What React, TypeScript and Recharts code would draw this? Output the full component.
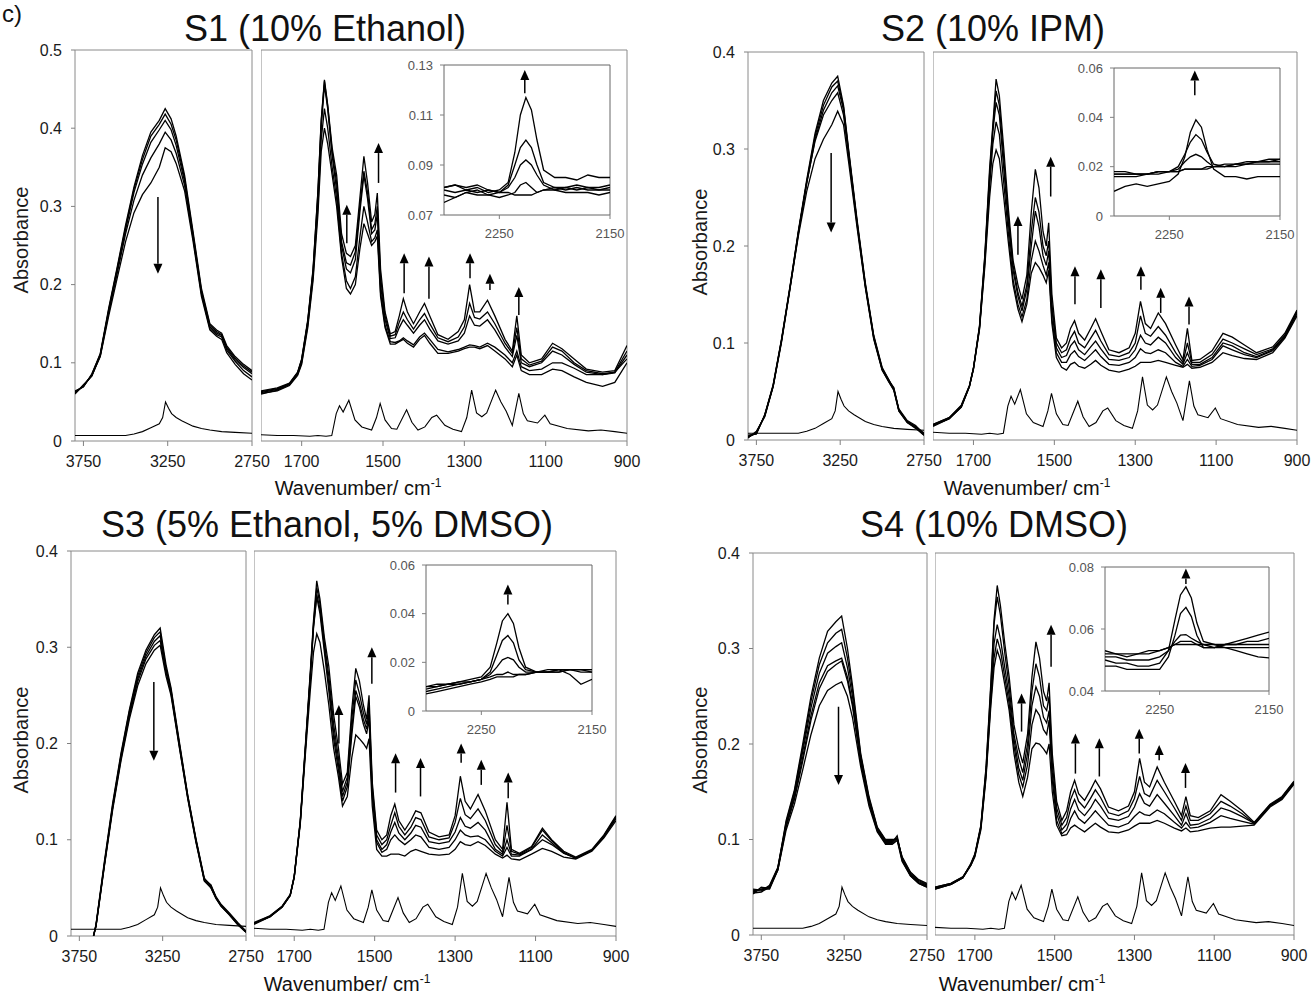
import React from 'react';
import { LineChart, Line, XAxis, YAxis, ReferenceArea, ReferenceLine } from 'recharts';

const FONT = "'Liberation Sans', Arial, sans-serif";

// wavenumber grids (cm-1)
const ohWn = [
  3800, 3750, 3700, 3650, 3600, 3550, 3500, 3450,
  3400, 3350, 3300, 3265, 3230, 3200, 3150, 3100,
  3050, 3000, 2960, 2930, 2900, 2850, 2800, 2750,
];
const s3OhWn = [
  3665, 3650, 3600, 3550, 3500, 3450, 3400, 3350, 3300, 3265, 3230,
  3200, 3150, 3100, 3050, 3000, 2960, 2930, 2900, 2850, 2800, 2750,
];
const fpWn = [
  1800, 1760, 1730, 1710, 1700, 1685, 1672, 1660,
  1652, 1644, 1636, 1625, 1614, 1602, 1590, 1580,
  1568, 1557, 1547, 1538, 1528, 1520, 1514, 1506,
  1495, 1482, 1470, 1460, 1450, 1440, 1425, 1410,
  1398, 1385, 1365, 1340, 1315, 1300, 1287, 1275,
  1262, 1243, 1225, 1200, 1182, 1171, 1160, 1140,
  1110, 1083, 1060, 1030, 1000, 960, 930, 900,
];
const cnWn = [2300, 2290, 2280, 2270, 2260, 2250, 2242, 2236, 2231, 2226, 2221, 2216, 2210, 2200, 2190, 2180, 2170, 2160, 2150];

// reference spectrum (bottom trace, same in every panel)
const refOhWn = [3800, 3700, 3600, 3500, 3450, 3400, 3350, 3300, 3280, 3263, 3245, 3227, 3200, 3167, 3100, 3050, 3000, 2930, 2850, 2750];
const refOh = [0.007, 0.007, 0.007, 0.007, 0.009, 0.012, 0.017, 0.022, 0.03, 0.05, 0.042, 0.035, 0.03, 0.026, 0.019, 0.016, 0.014, 0.012, 0.011, 0.01];
const refFpWn = [
  1800, 1760, 1720, 1680, 1660, 1640, 1626, 1615, 1607, 1598, 1584, 1569, 1552, 1528, 1516, 1507,
  1495, 1479, 1466, 1442, 1429, 1414, 1397, 1380, 1368, 1348, 1328, 1307, 1294, 1282, 1270, 1257,
  1245, 1223, 1210, 1197, 1182, 1166, 1155, 1145, 1120, 1102, 1089, 1047, 995, 964, 930, 900,
];
const refFp = [
  0.008, 0.007, 0.007, 0.006, 0.007, 0.006, 0.007, 0.035, 0.045, 0.037, 0.052, 0.027, 0.018, 0.014, 0.03, 0.048,
  0.027, 0.016, 0.015, 0.04, 0.024, 0.014, 0.018, 0.03, 0.033, 0.02, 0.015, 0.012, 0.03, 0.065, 0.036, 0.031,
  0.036, 0.065, 0.05, 0.038, 0.02, 0.061, 0.035, 0.026, 0.023, 0.033, 0.022, 0.016, 0.013, 0.014, 0.012, 0.01,
];

// tick values
const ohTicks = [3750, 3250, 2750];
const fpTicks = [1700, 1500, 1300, 1100, 900];
const cnTicks = [2250, 2150];
const absTicks5 = [0, 0.1, 0.2, 0.3, 0.4, 0.5];
const absTicks4 = [0, 0.1, 0.2, 0.3, 0.4];
const s1CnTicks = [0.07, 0.09, 0.11, 0.13];
const lowCnTicks = [0, 0.02, 0.04, 0.06];
const s4CnTicks = [0.04, 0.06, 0.08];

// ---- S1 (10% Ethanol)
const s1Oh = [
  [0.062, 0.07, 0.085, 0.112, 0.17, 0.222, 0.276, 0.325, 0.365, 0.395, 0.41, 0.425, 0.412, 0.39, 0.34, 0.268, 0.195, 0.15, 0.142, 0.138, 0.122, 0.108, 0.098, 0.09],
  [0.06, 0.072, 0.083, 0.11, 0.168, 0.22, 0.273, 0.322, 0.36, 0.39, 0.405, 0.418, 0.405, 0.385, 0.336, 0.265, 0.192, 0.148, 0.14, 0.136, 0.12, 0.106, 0.096, 0.088],
  [0.064, 0.069, 0.086, 0.111, 0.166, 0.218, 0.27, 0.318, 0.354, 0.382, 0.398, 0.41, 0.398, 0.378, 0.332, 0.262, 0.19, 0.146, 0.138, 0.135, 0.118, 0.104, 0.094, 0.086],
  [0.061, 0.071, 0.084, 0.109, 0.164, 0.214, 0.265, 0.308, 0.34, 0.362, 0.38, 0.395, 0.385, 0.368, 0.327, 0.26, 0.188, 0.144, 0.136, 0.133, 0.116, 0.102, 0.09, 0.082],
  [0.063, 0.07, 0.084, 0.108, 0.16, 0.208, 0.255, 0.292, 0.315, 0.33, 0.35, 0.375, 0.37, 0.355, 0.32, 0.256, 0.185, 0.142, 0.134, 0.13, 0.113, 0.098, 0.086, 0.078],
];
const s1Fp = [
  [0.064, 0.068, 0.074, 0.088, 0.105, 0.155, 0.22, 0.32,
   0.41, 0.462, 0.43, 0.375, 0.34, 0.265, 0.24, 0.236,
   0.25, 0.31, 0.364, 0.33, 0.28, 0.29, 0.317, 0.22,
   0.165, 0.137, 0.14, 0.16, 0.182, 0.165, 0.15, 0.165,
   0.176, 0.16, 0.136, 0.13, 0.14, 0.155, 0.2, 0.165,
   0.165, 0.18, 0.16, 0.13, 0.115, 0.16, 0.11, 0.1,
   0.105, 0.125, 0.118, 0.105, 0.092, 0.088, 0.09, 0.122],
  [0.062, 0.066, 0.073, 0.087, 0.103, 0.153, 0.218, 0.318,
   0.408, 0.46, 0.428, 0.37, 0.33, 0.255, 0.228, 0.225,
   0.242, 0.3, 0.345, 0.318, 0.27, 0.278, 0.3, 0.21,
   0.16, 0.134, 0.136, 0.152, 0.165, 0.155, 0.143, 0.155,
   0.163, 0.15, 0.132, 0.127, 0.133, 0.146, 0.176, 0.158,
   0.156, 0.165, 0.15, 0.125, 0.112, 0.145, 0.105, 0.097,
   0.102, 0.12, 0.115, 0.1, 0.09, 0.086, 0.088, 0.115],
  [0.063, 0.067, 0.073, 0.087, 0.104, 0.152, 0.215, 0.31,
   0.4, 0.455, 0.425, 0.365, 0.32, 0.25, 0.22, 0.215,
   0.232, 0.292, 0.34, 0.31, 0.265, 0.27, 0.29, 0.2,
   0.155, 0.131, 0.132, 0.145, 0.155, 0.148, 0.138, 0.148,
   0.155, 0.143, 0.128, 0.124, 0.128, 0.138, 0.16, 0.148,
   0.147, 0.155, 0.142, 0.12, 0.108, 0.135, 0.1, 0.095,
   0.1, 0.115, 0.11, 0.098, 0.088, 0.085, 0.087, 0.11],
  [0.06, 0.065, 0.072, 0.085, 0.1, 0.148, 0.21, 0.3,
   0.385, 0.425, 0.4, 0.35, 0.31, 0.24, 0.205, 0.195,
   0.21, 0.26, 0.3, 0.28, 0.255, 0.26, 0.27, 0.19,
   0.148, 0.127, 0.126, 0.128, 0.132, 0.128, 0.123, 0.133,
   0.138, 0.13, 0.117, 0.114, 0.117, 0.12, 0.123, 0.122,
   0.12, 0.125, 0.12, 0.11, 0.1, 0.115, 0.095, 0.09,
   0.092, 0.1, 0.1, 0.093, 0.085, 0.085, 0.088, 0.105],
  [0.061, 0.064, 0.071, 0.084, 0.098, 0.145, 0.205, 0.29,
   0.37, 0.4, 0.38, 0.34, 0.3, 0.235, 0.195, 0.188,
   0.2, 0.245, 0.278, 0.265, 0.25, 0.255, 0.262, 0.185,
   0.145, 0.124, 0.124, 0.127, 0.13, 0.125, 0.12, 0.13,
   0.135, 0.125, 0.112, 0.112, 0.115, 0.118, 0.12, 0.12,
   0.118, 0.122, 0.115, 0.105, 0.095, 0.11, 0.09, 0.085,
   0.085, 0.092, 0.09, 0.082, 0.075, 0.07, 0.075, 0.1],
];
const s1Cn = [
  [0.081, 0.082, 0.08, 0.081, 0.079, 0.08, 0.083, 0.095, 0.11, 0.117, 0.112, 0.1, 0.088, 0.085, 0.085, 0.084, 0.086, 0.085, 0.085],
  [0.08, 0.079, 0.08, 0.079, 0.08, 0.079, 0.082, 0.09, 0.097, 0.1, 0.097, 0.09, 0.083, 0.081, 0.081, 0.082, 0.081, 0.081, 0.082],
  [0.078, 0.077, 0.079, 0.078, 0.078, 0.079, 0.081, 0.085, 0.09, 0.092, 0.09, 0.086, 0.082, 0.08, 0.081, 0.08, 0.081, 0.08, 0.081],
  [0.075, 0.077, 0.079, 0.08, 0.078, 0.077, 0.078, 0.079, 0.082, 0.083, 0.081, 0.079, 0.08, 0.081, 0.08, 0.081, 0.08, 0.08, 0.08],
  [0.081, 0.082, 0.081, 0.082, 0.08, 0.079, 0.079, 0.078, 0.078, 0.078, 0.078, 0.079, 0.08, 0.08, 0.079, 0.079, 0.079, 0.078, 0.079],
];
// arrows: [wavenumber, from, to]
const s1OhArrows = [[3308, 0.312, 0.214]];
const s1FpArrows = [[1589, 0.253, 0.302], [1511, 0.33, 0.381], [1448, 0.189, 0.24], [1387, 0.182, 0.236], [1286, 0.208, 0.24], [1237, 0.193, 0.214], [1166, 0.161, 0.197]];
const s1CnArrows = [[2227, 0.1187, 0.128]];

// ---- S2 (10% IPM)
const s2Oh = [
  [0.003, 0.008, 0.025, 0.056, 0.103, 0.157, 0.215, 0.268, 0.316, 0.35, 0.368, 0.375, 0.345, 0.3, 0.228, 0.162, 0.108, 0.075, 0.062, 0.052, 0.032, 0.02, 0.015, 0.006],
  [0.005, 0.006, 0.026, 0.055, 0.102, 0.156, 0.213, 0.266, 0.313, 0.345, 0.364, 0.37, 0.343, 0.298, 0.226, 0.16, 0.107, 0.074, 0.062, 0.053, 0.031, 0.019, 0.014, 0.007],
  [0.002, 0.009, 0.024, 0.055, 0.101, 0.155, 0.212, 0.264, 0.31, 0.34, 0.358, 0.365, 0.34, 0.296, 0.225, 0.16, 0.106, 0.073, 0.061, 0.054, 0.031, 0.019, 0.013, 0.006],
  [0.004, 0.007, 0.026, 0.057, 0.104, 0.158, 0.214, 0.265, 0.308, 0.335, 0.35, 0.358, 0.335, 0.293, 0.223, 0.158, 0.105, 0.073, 0.06, 0.052, 0.03, 0.018, 0.013, 0.005],
  [0.003, 0.007, 0.025, 0.056, 0.103, 0.156, 0.21, 0.256, 0.29, 0.31, 0.325, 0.339, 0.325, 0.287, 0.22, 0.157, 0.104, 0.072, 0.06, 0.051, 0.03, 0.018, 0.012, 0.005],
];
const s2Fp = [
  [0.015, 0.022, 0.035, 0.055, 0.074, 0.118, 0.19, 0.28,
   0.325, 0.372, 0.355, 0.3, 0.24, 0.185, 0.16, 0.145,
   0.17, 0.235, 0.279, 0.26, 0.215, 0.2, 0.224, 0.15,
   0.105, 0.095, 0.1, 0.115, 0.123, 0.11, 0.103, 0.115,
   0.125, 0.112, 0.093, 0.09, 0.095, 0.11, 0.143, 0.12,
   0.115, 0.131, 0.12, 0.098, 0.083, 0.115, 0.082, 0.083,
   0.092, 0.11, 0.106, 0.098, 0.09, 0.096, 0.11, 0.134],
  [0.016, 0.023, 0.036, 0.056, 0.074, 0.117, 0.188, 0.275,
   0.322, 0.36, 0.345, 0.29, 0.232, 0.18, 0.152, 0.138,
   0.16, 0.215, 0.25, 0.235, 0.2, 0.19, 0.205, 0.14,
   0.1, 0.09, 0.093, 0.105, 0.112, 0.1, 0.095, 0.105,
   0.113, 0.102, 0.088, 0.086, 0.09, 0.1, 0.128, 0.11,
   0.107, 0.117, 0.108, 0.09, 0.08, 0.1, 0.08, 0.08,
   0.088, 0.104, 0.1, 0.094, 0.088, 0.094, 0.108, 0.133],
  [0.014, 0.022, 0.034, 0.055, 0.073, 0.116, 0.185, 0.268,
   0.318, 0.348, 0.335, 0.28, 0.225, 0.175, 0.148, 0.133,
   0.155, 0.2, 0.236, 0.22, 0.19, 0.18, 0.195, 0.135,
   0.095, 0.085, 0.087, 0.097, 0.102, 0.093, 0.088, 0.096,
   0.102, 0.094, 0.083, 0.082, 0.085, 0.093, 0.108, 0.1,
   0.098, 0.106, 0.1, 0.085, 0.078, 0.09, 0.078, 0.078,
   0.085, 0.1, 0.097, 0.09, 0.086, 0.093, 0.107, 0.132],
  [0.016, 0.023, 0.035, 0.056, 0.074, 0.115, 0.182, 0.262,
   0.305, 0.328, 0.315, 0.265, 0.215, 0.165, 0.14, 0.127,
   0.145, 0.185, 0.205, 0.195, 0.18, 0.17, 0.183, 0.125,
   0.09, 0.08, 0.08, 0.088, 0.092, 0.086, 0.082, 0.088,
   0.093, 0.086, 0.078, 0.077, 0.08, 0.085, 0.094, 0.09,
   0.089, 0.093, 0.09, 0.08, 0.076, 0.083, 0.076, 0.077,
   0.083, 0.097, 0.093, 0.088, 0.085, 0.092, 0.106, 0.13],
  [0.015, 0.022, 0.034, 0.055, 0.073, 0.114, 0.178, 0.25,
   0.285, 0.299, 0.29, 0.25, 0.205, 0.16, 0.135, 0.122,
   0.14, 0.172, 0.183, 0.178, 0.17, 0.162, 0.175, 0.12,
   0.085, 0.075, 0.072, 0.078, 0.08, 0.076, 0.074, 0.078,
   0.082, 0.077, 0.072, 0.07, 0.073, 0.076, 0.08, 0.08,
   0.08, 0.082, 0.08, 0.077, 0.075, 0.078, 0.074, 0.075,
   0.08, 0.09, 0.087, 0.084, 0.083, 0.09, 0.105, 0.128],
];
const s2Cn = [
  [0.01, 0.012, 0.013, 0.012, 0.013, 0.014, 0.017, 0.024, 0.034, 0.039, 0.036, 0.027, 0.019, 0.016, 0.016, 0.015, 0.016, 0.016, 0.016],
  [0.016, 0.016, 0.016, 0.017, 0.017, 0.018, 0.02, 0.025, 0.03, 0.033, 0.031, 0.026, 0.021, 0.02, 0.02, 0.021, 0.021, 0.021, 0.021],
  [0.017, 0.017, 0.017, 0.017, 0.018, 0.018, 0.019, 0.022, 0.024, 0.025, 0.024, 0.022, 0.02, 0.02, 0.021, 0.021, 0.022, 0.022, 0.022],
  [0.017, 0.017, 0.017, 0.017, 0.018, 0.018, 0.018, 0.019, 0.019, 0.019, 0.019, 0.019, 0.02, 0.02, 0.021, 0.021, 0.022, 0.022, 0.023],
  [0.018, 0.018, 0.017, 0.017, 0.018, 0.018, 0.018, 0.019, 0.019, 0.019, 0.019, 0.02, 0.02, 0.021, 0.021, 0.022, 0.022, 0.023, 0.023],
];
const s2OhArrows = [[3304, 0.296, 0.214]];
const s2FpArrows = [[1590, 0.191, 0.231], [1509, 0.251, 0.292], [1449, 0.14, 0.179], [1385, 0.136, 0.176], [1286, 0.155, 0.179], [1237, 0.131, 0.157], [1167, 0.119, 0.148]];
const s2CnArrows = [[2227, 0.049, 0.059]];

// ---- S3 (5% Ethanol, 5% DMSO)
const s3Oh = [
  [0, 0.012, 0.077, 0.138, 0.19, 0.235, 0.273, 0.297, 0.313, 0.32, 0.282, 0.258, 0.202, 0.147, 0.101, 0.06, 0.052, 0.041, 0.033, 0.024, 0.014, 0.005],
  [0, 0.011, 0.075, 0.136, 0.188, 0.233, 0.27, 0.294, 0.31, 0.316, 0.278, 0.256, 0.2, 0.146, 0.1, 0.059, 0.053, 0.04, 0.032, 0.023, 0.013, 0.005],
  [0, 0.011, 0.074, 0.134, 0.186, 0.23, 0.267, 0.291, 0.306, 0.312, 0.276, 0.254, 0.199, 0.145, 0.099, 0.058, 0.051, 0.04, 0.032, 0.023, 0.013, 0.004],
  [0, 0.01, 0.073, 0.133, 0.184, 0.228, 0.264, 0.288, 0.302, 0.307, 0.274, 0.252, 0.197, 0.144, 0.098, 0.058, 0.05, 0.039, 0.031, 0.022, 0.012, 0.004],
  [0, 0.01, 0.072, 0.131, 0.182, 0.225, 0.26, 0.283, 0.297, 0.302, 0.27, 0.25, 0.196, 0.143, 0.097, 0.057, 0.05, 0.039, 0.031, 0.022, 0.012, 0.004],
];
const s3Fp = [
  [0.013, 0.02, 0.03, 0.042, 0.062, 0.12, 0.2, 0.275,
   0.328, 0.369, 0.35, 0.31, 0.28, 0.23, 0.195, 0.158,
   0.17, 0.235, 0.278, 0.265, 0.24, 0.225, 0.25, 0.16,
   0.11, 0.1, 0.105, 0.125, 0.137, 0.12, 0.11, 0.12,
   0.13, 0.128, 0.108, 0.103, 0.105, 0.125, 0.166, 0.14,
   0.132, 0.147, 0.13, 0.1, 0.09, 0.139, 0.09, 0.086,
   0.093, 0.112, 0.1, 0.088, 0.082, 0.09, 0.105, 0.125],
  [0.013, 0.021, 0.031, 0.043, 0.062, 0.119, 0.198, 0.272,
   0.325, 0.362, 0.345, 0.305, 0.27, 0.22, 0.185, 0.15,
   0.165, 0.225, 0.266, 0.252, 0.232, 0.22, 0.24, 0.155,
   0.105, 0.095, 0.1, 0.115, 0.128, 0.114, 0.105, 0.113,
   0.123, 0.121, 0.103, 0.1, 0.102, 0.118, 0.143, 0.126,
   0.122, 0.132, 0.12, 0.095, 0.087, 0.115, 0.088, 0.085,
   0.092, 0.11, 0.099, 0.087, 0.081, 0.089, 0.104, 0.124],
  [0.012, 0.02, 0.03, 0.042, 0.061, 0.118, 0.196, 0.27,
   0.322, 0.355, 0.34, 0.3, 0.262, 0.212, 0.178, 0.145,
   0.16, 0.215, 0.255, 0.243, 0.225, 0.215, 0.232, 0.15,
   0.1, 0.09, 0.095, 0.108, 0.118, 0.107, 0.1, 0.107,
   0.115, 0.113, 0.098, 0.096, 0.098, 0.108, 0.123, 0.114,
   0.112, 0.118, 0.11, 0.09, 0.085, 0.1, 0.085, 0.084,
   0.09, 0.105, 0.097, 0.086, 0.081, 0.089, 0.104, 0.123],
  [0.014, 0.021, 0.031, 0.043, 0.062, 0.118, 0.195, 0.268,
   0.32, 0.352, 0.335, 0.295, 0.255, 0.205, 0.172, 0.14,
   0.155, 0.208, 0.249, 0.238, 0.22, 0.21, 0.225, 0.145,
   0.097, 0.087, 0.09, 0.1, 0.105, 0.1, 0.095, 0.1,
   0.105, 0.103, 0.092, 0.09, 0.092, 0.1, 0.11, 0.105,
   0.103, 0.104, 0.1, 0.088, 0.083, 0.092, 0.083, 0.083,
   0.09, 0.1, 0.095, 0.086, 0.081, 0.089, 0.103, 0.122],
  [0.013, 0.02, 0.03, 0.042, 0.061, 0.116, 0.19, 0.255,
   0.295, 0.314, 0.305, 0.275, 0.24, 0.195, 0.165, 0.135,
   0.145, 0.185, 0.209, 0.205, 0.2, 0.195, 0.205, 0.135,
   0.09, 0.083, 0.083, 0.085, 0.085, 0.085, 0.083, 0.088,
   0.09, 0.088, 0.085, 0.084, 0.085, 0.09, 0.098, 0.095,
   0.094, 0.098, 0.094, 0.085, 0.081, 0.084, 0.08, 0.079,
   0.085, 0.091, 0.088, 0.082, 0.08, 0.088, 0.102, 0.12],
];
const s3Cn = [
  [0.01, 0.011, 0.011, 0.012, 0.013, 0.014, 0.018, 0.028, 0.037, 0.04, 0.036, 0.026, 0.018, 0.016, 0.016, 0.017, 0.017, 0.017, 0.017],
  [0.009, 0.01, 0.011, 0.011, 0.012, 0.013, 0.016, 0.023, 0.029, 0.031, 0.028, 0.021, 0.017, 0.016, 0.016, 0.016, 0.017, 0.017, 0.017],
  [0.008, 0.009, 0.01, 0.011, 0.012, 0.013, 0.015, 0.018, 0.021, 0.022, 0.021, 0.018, 0.016, 0.016, 0.016, 0.017, 0.017, 0.016, 0.016],
  [0.01, 0.01, 0.011, 0.012, 0.012, 0.013, 0.014, 0.015, 0.015, 0.016, 0.015, 0.015, 0.015, 0.016, 0.017, 0.017, 0.015, 0.011, 0.013],
  [0.007, 0.008, 0.009, 0.01, 0.011, 0.012, 0.013, 0.014, 0.014, 0.014, 0.014, 0.015, 0.015, 0.016, 0.016, 0.016, 0.017, 0.017, 0.016],
];
const s3OhArrows = [[3303, 0.264, 0.182]];
const s3FpArrows = [[1589, 0.2, 0.24], [1507, 0.262, 0.3], [1448, 0.149, 0.19], [1386, 0.145, 0.185], [1285, 0.18, 0.2], [1235, 0.157, 0.183], [1168, 0.143, 0.17]];
const s3CnArrows = [[2226, 0.0438, 0.052]];

// ---- S4 (10% DMSO)
const s4Oh = [
  [0.045, 0.048, 0.05, 0.07, 0.12, 0.152, 0.2, 0.25, 0.29, 0.318, 0.328, 0.334, 0.3, 0.262, 0.19, 0.145, 0.113, 0.1, 0.1, 0.1, 0.082, 0.066, 0.058, 0.054],
  [0.047, 0.046, 0.052, 0.071, 0.118, 0.15, 0.196, 0.245, 0.283, 0.306, 0.316, 0.32, 0.29, 0.257, 0.188, 0.143, 0.112, 0.099, 0.099, 0.101, 0.081, 0.065, 0.057, 0.053],
  [0.043, 0.05, 0.049, 0.069, 0.116, 0.147, 0.192, 0.238, 0.274, 0.295, 0.302, 0.306, 0.28, 0.25, 0.185, 0.141, 0.111, 0.098, 0.098, 0.102, 0.08, 0.064, 0.056, 0.052],
  [0.048, 0.047, 0.051, 0.07, 0.115, 0.144, 0.186, 0.23, 0.264, 0.282, 0.287, 0.29, 0.27, 0.243, 0.182, 0.139, 0.11, 0.097, 0.097, 0.104, 0.079, 0.063, 0.055, 0.051],
  [0.044, 0.045, 0.05, 0.068, 0.113, 0.142, 0.182, 0.225, 0.258, 0.276, 0.283, 0.287, 0.266, 0.24, 0.18, 0.138, 0.109, 0.096, 0.096, 0.101, 0.078, 0.062, 0.054, 0.05],
  [0.046, 0.048, 0.048, 0.068, 0.11, 0.137, 0.173, 0.21, 0.24, 0.256, 0.262, 0.265, 0.25, 0.228, 0.176, 0.135, 0.108, 0.095, 0.095, 0.099, 0.077, 0.062, 0.054, 0.05],
];
const s4Fp = [
  [0.048, 0.053, 0.06, 0.075, 0.085, 0.115, 0.176, 0.264,
   0.33, 0.366, 0.345, 0.305, 0.27, 0.22, 0.195, 0.18,
   0.21, 0.27, 0.307, 0.29, 0.255, 0.245, 0.264, 0.19,
   0.14, 0.12, 0.13, 0.15, 0.162, 0.148, 0.141, 0.152,
   0.162, 0.153, 0.134, 0.13, 0.135, 0.15, 0.185, 0.16,
   0.155, 0.176, 0.16, 0.14, 0.125, 0.145, 0.125, 0.123,
   0.13, 0.147, 0.14, 0.13, 0.118, 0.137, 0.145, 0.161],
  [0.05, 0.054, 0.061, 0.074, 0.084, 0.114, 0.174, 0.26,
   0.325, 0.354, 0.335, 0.295, 0.26, 0.21, 0.185, 0.17,
   0.2, 0.255, 0.284, 0.27, 0.24, 0.235, 0.25, 0.18,
   0.133, 0.115, 0.123, 0.142, 0.152, 0.14, 0.133, 0.143,
   0.152, 0.144, 0.128, 0.125, 0.13, 0.143, 0.166, 0.148,
   0.145, 0.162, 0.15, 0.133, 0.12, 0.135, 0.12, 0.12,
   0.127, 0.14, 0.135, 0.127, 0.117, 0.136, 0.144, 0.16],
  [0.049, 0.053, 0.06, 0.073, 0.083, 0.113, 0.17, 0.25,
   0.305, 0.325, 0.31, 0.28, 0.25, 0.205, 0.175, 0.162,
   0.19, 0.24, 0.26, 0.25, 0.228, 0.222, 0.235, 0.17,
   0.127, 0.11, 0.116, 0.132, 0.142, 0.131, 0.125, 0.133,
   0.142, 0.135, 0.122, 0.12, 0.124, 0.134, 0.148, 0.138,
   0.135, 0.147, 0.138, 0.125, 0.115, 0.127, 0.115, 0.116,
   0.122, 0.133, 0.13, 0.124, 0.117, 0.136, 0.144, 0.16],
  [0.05, 0.054, 0.061, 0.074, 0.084, 0.112, 0.168, 0.245,
   0.29, 0.31, 0.298, 0.27, 0.242, 0.198, 0.168, 0.155,
   0.178, 0.22, 0.236, 0.23, 0.215, 0.21, 0.225, 0.162,
   0.12, 0.106, 0.11, 0.122, 0.13, 0.122, 0.117, 0.124,
   0.13, 0.124, 0.115, 0.113, 0.117, 0.124, 0.129, 0.126,
   0.125, 0.131, 0.127, 0.118, 0.112, 0.118, 0.112, 0.113,
   0.118, 0.125, 0.122, 0.119, 0.116, 0.135, 0.143, 0.159],
  [0.048, 0.053, 0.06, 0.073, 0.082, 0.11, 0.165, 0.24,
   0.28, 0.298, 0.288, 0.262, 0.235, 0.19, 0.16, 0.145,
   0.165, 0.195, 0.201, 0.2, 0.195, 0.19, 0.2, 0.15,
   0.115, 0.104, 0.105, 0.112, 0.115, 0.112, 0.108, 0.113,
   0.117, 0.113, 0.108, 0.107, 0.11, 0.114, 0.117, 0.117,
   0.117, 0.12, 0.117, 0.112, 0.109, 0.112, 0.108, 0.109,
   0.112, 0.113, 0.113, 0.114, 0.115, 0.134, 0.142, 0.158],
];
const s4Cn = [
  [0.05, 0.049, 0.049, 0.048, 0.048, 0.049, 0.053, 0.063, 0.071, 0.0736, 0.07, 0.062, 0.056, 0.055, 0.054, 0.054, 0.054, 0.054, 0.054],
  [0.048, 0.048, 0.047, 0.047, 0.047, 0.047, 0.051, 0.058, 0.065, 0.067, 0.064, 0.058, 0.054, 0.054, 0.055, 0.055, 0.056, 0.056, 0.057],
  [0.051, 0.051, 0.05, 0.05, 0.05, 0.051, 0.053, 0.056, 0.058, 0.0582, 0.057, 0.056, 0.055, 0.055, 0.055, 0.056, 0.057, 0.058, 0.059],
  [0.052, 0.052, 0.052, 0.052, 0.053, 0.053, 0.054, 0.055, 0.056, 0.056, 0.056, 0.055, 0.055, 0.054, 0.054, 0.053, 0.052, 0.051, 0.0507],
  [0.053, 0.052, 0.051, 0.052, 0.052, 0.053, 0.054, 0.055, 0.055, 0.055, 0.055, 0.055, 0.054, 0.054, 0.055, 0.055, 0.055, 0.055, 0.055],
];
const s4OhArrows = [[3284, 0.239, 0.157]];
const s4FpArrows = [[1583, 0.213, 0.253], [1509, 0.281, 0.325], [1448, 0.169, 0.211], [1388, 0.166, 0.206], [1288, 0.19, 0.216], [1238, 0.183, 0.199], [1172, 0.154, 0.18]];
const s4CnArrows = [[2226, 0.0745, 0.0795]];

type Pt = { x: number; y: number };
const toPts = (wn: number[], ys: number[]): Pt[] => wn.map((x, i) => ({ x, y: ys[i] }));

const arrowShape = (p: any) => {
  const { x1, y1, x2, y2 } = p;
  const dir = y2 < y1 ? 1 : -1;
  const base = y2 + dir * 10;
  return (
    <g>
      <line x1={x1} y1={y1} x2={x2} y2={base} stroke="#000" strokeWidth={1.5} />
      <polygon points={`${x2 - 4.5},${base} ${x2 + 4.5},${base} ${x2},${y2}`} fill="#000" />
    </g>
  );
};

type PlotProps = {
  box: number[]; // x0, x1, y0, y1 on the page
  xDomain: number[];
  xTicks: number[];
  yDomain: number[];
  yTicks?: number[];
  wn: number[];
  series: number[][];
  refWn?: number[];
  ref?: number[];
  arrows: number[][];
  inset?: boolean;
};

const Plot = ({ box, xDomain, xTicks, yDomain, yTicks, wn, series, refWn, ref, arrows, inset }: PlotProps) => {
  const [x0, x1, y0, y1] = box;
  const padL = yTicks ? 60 : 0;
  const padR = 32;
  const padT = 14;
  const padB = 36;
  const fs = inset ? 13 : 16;
  const txt = inset ? '#555' : '#1a1a1a';
  return (
    <div style={{ position: 'absolute', left: x0 - padL, top: y0 - padT }}>
      <LineChart width={x1 - x0 + padL + padR} height={y1 - y0 + padT + padB} margin={{ top: padT, right: padR, bottom: 0, left: 0 }}>
        <XAxis type="number" dataKey="x" domain={xDomain} reversed allowDataOverflow ticks={xTicks} interval={0}
          height={padB} axisLine={false} tickSize={inset ? 4 : 5} tickMargin={10}
          tickLine={{ stroke: '#808080' }} tick={{ fill: txt, fontSize: fs, fontFamily: FONT }} />
        <YAxis type="number" domain={yDomain} allowDataOverflow hide={!yTicks} ticks={yTicks} width={padL} interval={0}
          axisLine={false} tickSize={4} tickMargin={inset ? 7 : 9} tickLine={{ stroke: '#808080' }}
          tick={{ fill: txt, fontSize: fs, fontFamily: FONT }}
          tickFormatter={(v: number) => (v === 0 ? '0' : String(v))} />
        <ReferenceArea x1={xDomain[0]} x2={xDomain[1]} y1={yDomain[0]} y2={yDomain[1]}
          fill="#fff" fillOpacity={inset ? 1 : 0} stroke={inset ? '#666' : '#8a8a8a'} strokeWidth={1} />
        {ref && refWn && (
          <Line data={toPts(refWn, ref)} dataKey="y" type="linear" stroke="#000" strokeWidth={1.1}
            dot={false} activeDot={false} isAnimationActive={false} />
        )}
        {series.map((s, i) => (
          <Line key={i} data={toPts(wn, s)} dataKey="y" type="linear" stroke="#000" strokeWidth={1.3}
            dot={false} activeDot={false} isAnimationActive={false} />
        ))}
        {arrows.map((a, i) => (
          <ReferenceLine key={`a${i}`} segment={[{ x: a[0], y: a[1] }, { x: a[0], y: a[2] }]}
            ifOverflow="visible" shape={arrowShape} />
        ))}
      </LineChart>
    </div>
  );
};

const Label = ({ cx, base, size, children, rotate }: any) => {
  if (rotate) {
    return (
      <div style={{ position: 'absolute', left: cx - 100, top: base - size / 2, width: 200, height: size,
        lineHeight: `${size}px`, fontSize: size, fontFamily: FONT, textAlign: 'center', color: '#1a1a1a',
        transform: 'rotate(-90deg)', whiteSpace: 'nowrap' }}>
        {children}
      </div>
    );
  }
  return (
    <div style={{ position: 'absolute', left: cx - 400, top: base - size * 0.85, width: 800, lineHeight: `${size}px`,
      fontSize: size, fontFamily: FONT, textAlign: 'center', color: '#111', whiteSpace: 'nowrap' }}>
      {children}
    </div>
  );
};

const panels = [
  {
    title: 'S1 (10% Ethanol)', titleX: 325, titleY: 42, absX: 21, absY: 240, waveX: 358, waveY: 495,
    ohBox: [75, 252, 50, 441], fpBox: [261, 627, 50, 441], cnBox: [444, 610, 65, 215],
    yMax: 0.5, yTicks: absTicks5, cnDomain: [0.07, 0.13], cnTicksY: s1CnTicks,
    ohWn: ohWn, oh: s1Oh, fp: s1Fp, cn: s1Cn, ohArrows: s1OhArrows, fpArrows: s1FpArrows, cnArrows: s1CnArrows,
  },
  {
    title: 'S2 (10% IPM)', titleX: 993, titleY: 42, absX: 700, absY: 242, waveX: 1027, waveY: 495,
    ohBox: [748, 924, 52, 440], fpBox: [933, 1297, 52, 440], cnBox: [1114, 1280, 68, 216],
    yMax: 0.4, yTicks: absTicks4, cnDomain: [0, 0.06], cnTicksY: lowCnTicks,
    ohWn: ohWn, oh: s2Oh, fp: s2Fp, cn: s2Cn, ohArrows: s2OhArrows, fpArrows: s2FpArrows, cnArrows: s2CnArrows,
  },
  {
    title: 'S3 (5% Ethanol, 5% DMSO)', titleX: 327, titleY: 538, absX: 21, absY: 740, waveX: 347, waveY: 991,
    ohBox: [71, 246, 551, 936], fpBox: [254, 616, 551, 936], cnBox: [426, 592, 565, 711],
    yMax: 0.4, yTicks: absTicks4, cnDomain: [0, 0.06], cnTicksY: lowCnTicks,
    ohWn: s3OhWn, oh: s3Oh, fp: s3Fp, cn: s3Cn, ohArrows: s3OhArrows, fpArrows: s3FpArrows, cnArrows: s3CnArrows,
  },
  {
    title: 'S4 (10% DMSO)', titleX: 994, titleY: 538, absX: 700, absY: 740, waveX: 1022, waveY: 991,
    ohBox: [753, 927, 553, 935], fpBox: [935, 1294, 553, 935], cnBox: [1105, 1269, 567, 691],
    yMax: 0.4, yTicks: absTicks4, cnDomain: [0.04, 0.08], cnTicksY: s4CnTicks,
    ohWn: ohWn, oh: s4Oh, fp: s4Fp, cn: s4Cn, ohArrows: s4OhArrows, fpArrows: s4FpArrows, cnArrows: s4CnArrows,
  },
];

export default function App() {
  return (
    <div style={{ position: 'absolute', left: 0, top: 0, width: 1316, height: 996, background: '#fff', overflow: 'hidden' }}>
      <div style={{ position: 'absolute', left: 2, top: 1, fontSize: 24, fontFamily: FONT, color: '#111', lineHeight: '26px' }}>c)</div>
      {panels.map((p) => (
        <React.Fragment key={p.title}>
          <Plot box={p.ohBox} xDomain={[2750, 3800]} xTicks={ohTicks} yDomain={[0, p.yMax]} yTicks={p.yTicks}
            wn={p.ohWn} series={p.oh} refWn={refOhWn} ref={refOh} arrows={p.ohArrows} />
          <Plot box={p.fpBox} xDomain={[900, 1800]} xTicks={fpTicks} yDomain={[0, p.yMax]}
            wn={fpWn} series={p.fp} refWn={refFpWn} ref={refFp} arrows={p.fpArrows} />
          <Plot box={p.cnBox} xDomain={[2150, 2300]} xTicks={cnTicks} yDomain={p.cnDomain} yTicks={p.cnTicksY}
            wn={cnWn} series={p.cn} arrows={p.cnArrows} inset />
          <Label cx={p.titleX} base={p.titleY} size={36}>{p.title}</Label>
          <Label cx={p.absX} base={p.absY} size={20} rotate>Absorbance</Label>
          <Label cx={p.waveX} base={p.waveY} size={20}>
            Wavenumber/ cm<sup style={{ fontSize: 12, verticalAlign: 'super', lineHeight: 0 }}>-1</sup>
          </Label>
        </React.Fragment>
      ))}
    </div>
  );
}
